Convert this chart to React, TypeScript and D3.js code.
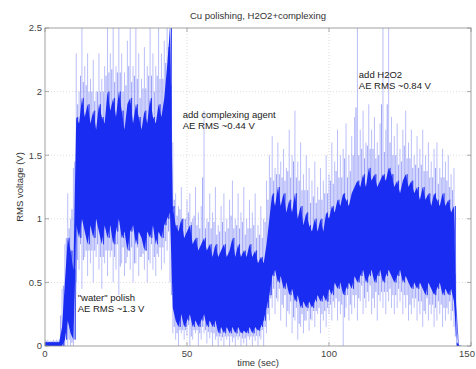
import React from "react";
import * as d3 from "d3";

// one sample per second, t = 0 .. 146 s (envelopes)
const peakHi = [
  0.05, 0.05, 0.04, 0.05, 0.05, 0.05, 0.45, 0.8, 1.2, 1.0,
  1.4, 2.3, 2.0, 2.5, 2.2, 2.3, 2.1, 2.25, 2.0, 2.3,
  2.1, 2.2, 2.5, 2.3, 2.5, 2.2, 2.5, 2.3, 2.15, 2.4,
  2.5, 2.2, 2.5, 2.3, 2.1, 2.35, 2.2, 2.5, 2.3, 2.2,
  2.5, 2.3, 2.4, 2.5, 2.5, 1.6, 1.2, 1.1, 1.25, 1.0,
  1.15, 1.2, 1.0, 1.25, 1.05, 1.1, 1.85, 1.0, 1.2, 1.05,
  1.25, 0.95, 1.1, 1.2, 1.0, 1.15, 1.3, 1.0, 1.2, 1.05,
  1.25, 1.0, 1.15, 1.05, 1.2, 0.95, 1.1, 1.0, 1.3, 1.5,
  1.65, 1.4, 1.6, 1.45, 1.55, 1.4, 1.7, 1.5, 1.85, 1.45,
  1.6, 1.35, 1.5, 1.4, 1.3, 1.45, 1.25, 1.4, 1.3, 1.5,
  1.35, 1.6, 1.45, 1.7, 1.5, 1.55, 1.75, 1.5, 1.65, 1.8,
  2.5, 1.7, 1.85, 1.6, 1.9, 1.7, 1.8, 1.6, 1.75, 2.5,
  1.7, 2.5, 1.8, 1.65, 1.75, 1.55, 1.7, 1.85, 1.6, 1.7,
  1.5, 1.65, 1.55, 1.7, 1.5, 1.6, 1.45, 1.55, 1.6, 1.4,
  1.55, 1.45, 1.5, 1.35, 1.4, 0.03, 0.0,
];

const coreHi = [
  0.03, 0.03, 0.03, 0.03, 0.03, 0.03, 0.15, 0.5, 0.85, 0.75,
  0.6, 1.8, 1.75, 1.95, 1.8, 1.9, 1.75, 1.85, 1.7, 1.9,
  1.8, 1.75, 2.0, 1.85, 1.95, 1.8, 2.0, 1.85, 1.7, 1.9,
  1.95, 1.75, 1.9, 1.8, 1.7, 1.85, 1.75, 1.95, 1.8, 1.75,
  1.9, 1.8, 1.95, 2.2, 2.5, 1.1, 0.95, 0.9, 1.0, 0.85,
  0.9, 0.95, 0.8, 0.85, 0.75, 0.8, 0.85, 0.75, 0.8, 0.7,
  0.8, 0.7, 0.75, 0.8, 0.7, 0.75, 0.85, 0.7, 0.8, 0.7,
  0.75, 0.7, 0.8, 0.7, 0.75, 0.65, 0.7, 0.65, 0.8, 1.0,
  1.2, 1.1, 1.25, 1.1, 1.2, 1.05, 1.15, 1.05, 1.2, 1.0,
  1.1, 0.95, 1.05, 0.95, 0.9, 1.0, 0.9, 1.0, 0.9, 1.05,
  1.0, 1.1, 1.05, 1.15, 1.1, 1.2, 1.15, 1.1, 1.2, 1.25,
  1.3, 1.25, 1.35, 1.25, 1.4, 1.3, 1.35, 1.25, 1.3, 1.35,
  1.3, 1.4, 1.35, 1.25, 1.3, 1.2, 1.3, 1.35, 1.25, 1.3,
  1.2, 1.25, 1.15, 1.25, 1.15, 1.2, 1.1, 1.2, 1.15, 1.1,
  1.2, 1.1, 1.15, 1.05, 1.1, 0.03, 0.0,
];

const coreLo = [
  0, 0, 0, 0, 0, 0, 0, 0.05, 0.2, 0.1,
  0.05, 0.95, 0.85, 1.0, 0.9, 0.8, 0.95, 0.85, 1.0, 0.9,
  0.8, 0.95, 0.85, 0.95, 0.8, 0.9, 1.0, 0.85, 0.9, 0.75,
  0.9, 0.95, 0.8, 0.9, 0.85, 0.75, 0.9, 0.85, 0.95, 0.8,
  0.9, 0.85, 0.95, 1.0, 1.05, 0.3, 0.2, 0.15, 0.25, 0.15,
  0.2, 0.25, 0.15, 0.2, 0.15, 0.2, 0.25, 0.15, 0.2, 0.15,
  0.2, 0.1, 0.15, 0.1, 0.15, 0.1, 0.15, 0.1, 0.15, 0.1,
  0.12, 0.1, 0.15, 0.1, 0.15, 0.12, 0.15, 0.2, 0.3, 0.4,
  0.55, 0.6, 0.5, 0.55, 0.45, 0.5, 0.4, 0.45, 0.35, 0.4,
  0.3, 0.35, 0.3, 0.35, 0.3, 0.35, 0.4, 0.35, 0.4, 0.35,
  0.45, 0.4, 0.5, 0.45, 0.5, 0.4, 0.45, 0.5, 0.45, 0.55,
  0.5, 0.55, 0.6, 0.5, 0.55, 0.6, 0.5, 0.55, 0.6, 0.5,
  0.55, 0.6, 0.55, 0.5, 0.55, 0.6, 0.5, 0.55, 0.5, 0.45,
  0.5, 0.45, 0.5, 0.45, 0.4, 0.5, 0.45, 0.4, 0.45, 0.5,
  0.4, 0.45, 0.4, 0.45, 0.35, 0, 0,
];

const peakLo = [
  0, 0, 0, 0, 0, 0, 0, 0, 0, 0,
  0, 0.5, 0.6, 0.45, 0.7, 0.55, 0.65, 0.5, 0.7, 0.6,
  0.45, 0.65, 0.55, 0.7, 0.5, 0.6, 0.4, 0.65, 0.55, 0.7,
  0.6, 0.5, 0.65, 0.55, 0.7, 0.6, 0.5, 0.65, 0.6, 0.55,
  0.7, 0.6, 0.65, 0.75, 0.5, 0.1, 0.05, 0.0, 0.1, 0.05,
  0.08, 0.0, 0.05, 0.1, 0.0, 0.05, 0.1, 0.02, 0.06, 0.0,
  0.05, 0.0, 0.04, 0.0, 0.05, 0.0, 0.03, 0.0, 0.05, 0.0,
  0.02, 0.0, 0.05, 0.0, 0.04, 0.0, 0.05, 0.0, 0.1, 0.2,
  0.3, 0.25, 0.35, 0.2, 0.3, 0.15, 0.25, 0.1, 0.2, 0.05,
  0.15, 0.1, 0.2, 0.12, 0.2, 0.15, 0.25, 0.1, 0.2, 0.15,
  0.25, 0.2, 0.3, 0.2, 0.25, 0.0, 0.3, 0.2, 0.25, 0.3,
  0.2, 0.35, 0.25, 0.3, 0.35, 0.25, 0.3, 0.2, 0.35, 0.3,
  0.25, 0.35, 0.3, 0.25, 0.3, 0.35, 0.25, 0.3, 0.2, 0.25,
  0.3, 0.2, 0.25, 0.15, 0.25, 0.2, 0.25, 0.15, 0.2, 0.25,
  0.15, 0.2, 0.25, 0.2, 0.15, 0, 0,
];

const xTicks = [0, 50, 100, 150];
const yTicks = [0, 0.5, 1, 1.5, 2, 2.5];

const titleText = "Cu polishing, H2O2+complexing";
const xLabel = "time (sec)";
const yLabel = "RMS voltage (V)";

const annotations = [
  { t: 11.5, v: 0.355, lines: ['"water" polish', "AE RMS ~1.3 V"] },
  { t: 48.5, v: 1.795, lines: ["add complexing agent", "AE RMS ~0.44 V"] },
  { t: 110.5, v: 2.11, lines: ["add H2O2", "AE RMS ~0.84 V"] },
];

const W = 476;
const H = 369;
const FONT = "'Liberation Sans', Arial, sans-serif";

export default function App() {
  const x = d3.scaleLinear().domain([0, 150]).range([45, 471]);
  const y = d3.scaleLinear().domain([0, 2.5]).range([346, 28]);
  const idx = d3.range(peakHi.length);
  const n = peakHi.length;

  // light spikes: one stroke per sample
  let peakPath = "";
  idx.forEach((i) => {
    const px = x(i);
    peakPath += "M" + px + "," + y(peakHi[i]) + "L" + px + "," + y(peakLo[i]);
  });

  // mid-density strokes between samples (blend of neighbouring envelopes)
  let midPath = "";
  idx.slice(0, n - 1).forEach((i) => {
    const px = x(i + 0.5);
    const hi = (coreHi[i] + peakHi[i + 1]) / 2;
    const lo = (coreLo[i + 1] + peakLo[i]) / 2;
    midPath += "M" + px + "," + y(hi) + "L" + px + "," + y(lo);
  });

  let corePath = "";
  idx.forEach((i) => {
    const px = x(i + 0.5);
    corePath += (i === 0 ? "M" : "L") + px + "," + y(coreHi[i]) + "L" + (px + 0.3) + "," + y(coreLo[i]);
  });

  const area = d3
    .area<number>()
    .x((i) => x(i))
    .y0((i) => y(coreLo[i]))
    .y1((i) => y(coreHi[i]));

  const [x0, x1] = x.range();
  const [yb, yt] = y.range();

  return (
    <svg width={W} height={H} style={{ display: "block", position: "absolute", left: 0, top: 0, background: "#fff" }}>
      <defs>
        <clipPath id="plotclip">
          <rect x={x0} y={yt} width={x1 - x0} height={yb - yt} />
        </clipPath>
      </defs>
      <rect x={0} y={0} width={W} height={H} fill="#fff" />
      {xTicks.slice(1, -1).map((t) => (
        <line key={"gx" + t} x1={x(t)} x2={x(t)} y1={yt} y2={yb} stroke="#c8c8c8" strokeWidth={0.6} strokeDasharray="1,2" />
      ))}
      {yTicks.slice(1, -1).map((t) => (
        <line key={"gy" + t} x1={x0} x2={x1} y1={y(t)} y2={y(t)} stroke="#c8c8c8" strokeWidth={0.6} strokeDasharray="1,2" />
      ))}
      <g clipPath="url(#plotclip)">
        <path d={peakPath} fill="none" stroke="#3040ee" strokeOpacity={0.42} strokeWidth={0.8} />
        <path d={midPath} fill="none" stroke="#2536f0" strokeOpacity={0.5} strokeWidth={0.9} />
        <path d={area(idx) || ""} fill="#1a2cf2" />
        <path d={corePath} fill="none" stroke="#1a2cf2" strokeWidth={0.7} />
      </g>
      <rect x={x0} y={yt} width={x1 - x0} height={yb - yt} fill="none" stroke="#8a8a8a" strokeWidth={0.8} />
      {xTicks.map((t) => (
        <g key={"tx" + t}>
          <line x1={x(t)} x2={x(t)} y1={yb} y2={yb - 4} stroke="#8a8a8a" strokeWidth={0.7} />
          <line x1={x(t)} x2={x(t)} y1={yt} y2={yt + 4} stroke="#8a8a8a" strokeWidth={0.7} />
          <text x={Math.min(x(t), W - 9)} y={yb + 11} fontSize={9.5} fontFamily={FONT} fill="#444" textAnchor="middle">
            {t}
          </text>
        </g>
      ))}
      {yTicks.map((t) => (
        <g key={"ty" + t}>
          <line x1={x0} x2={x0 + 4} y1={y(t)} y2={y(t)} stroke="#8a8a8a" strokeWidth={0.7} />
          <line x1={x1} x2={x1 - 4} y1={y(t)} y2={y(t)} stroke="#8a8a8a" strokeWidth={0.7} />
          <text x={x0 - 3} y={y(t) + 3.3} fontSize={9.5} fontFamily={FONT} fill="#444" textAnchor="end">
            {t}
          </text>
        </g>
      ))}
      <text x={(x0 + x1) / 2} y={19} fontSize={9.5} fontFamily={FONT} fill="#333" textAnchor="middle">
        {titleText}
      </text>
      <text x={(x0 + x1) / 2} y={366} fontSize={9.5} fontFamily={FONT} fill="#333" textAnchor="middle">
        {xLabel}
      </text>
      <text
        transform={`translate(23,${(yt + yb) / 2}) rotate(-90)`}
        fontSize={9.5}
        fontFamily={FONT}
        fill="#333"
        textAnchor="middle"
      >
        {yLabel}
      </text>
      {annotations.map((a, k) => (
        <text key={"an" + k} x={x(a.t)} y={y(a.v)} fontSize={9.5} fontFamily={FONT} fill="#222">
          {a.lines.map((l, j) => (
            <tspan key={j} x={x(a.t)} dy={j === 0 ? 0 : 11.5}>
              {l}
            </tspan>
          ))}
        </text>
      ))}
    </svg>
  );
}
